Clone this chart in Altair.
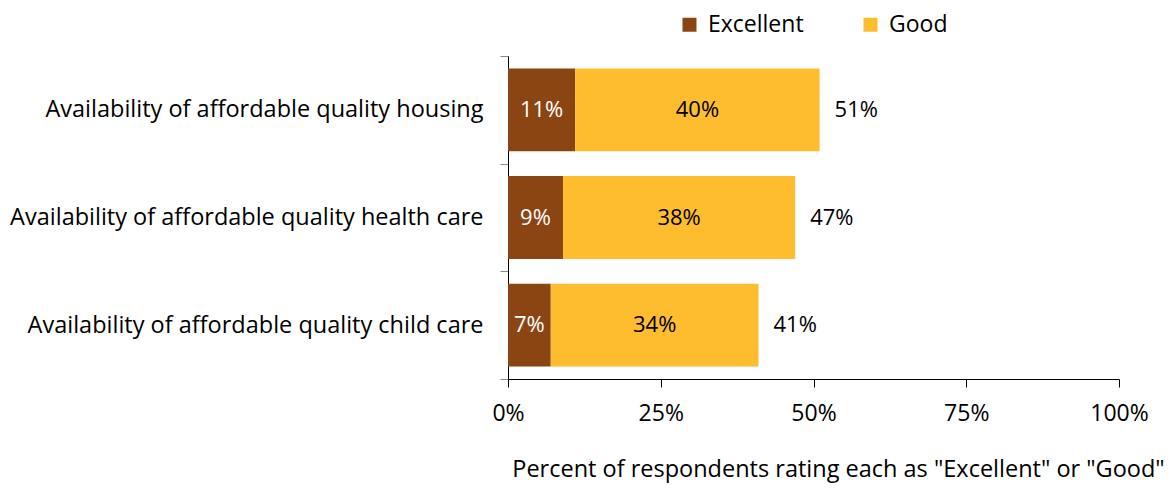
import altair as alt
import pandas as pd

categories = [
    "Availability of affordable quality housing",
    "Availability of affordable quality health care",
    "Availability of affordable quality child care",
]
excellent = [11, 9, 7]
good = [40, 38, 34]
totals = [51, 47, 41]
ratings = ["Excellent", "Good"]
colors = ["#8B4513", "#FDBD2F"]
x_ticks = [0, 25, 50, 75, 100]

rows = []
for c, e, g in zip(categories, excellent, good):
    rows.append({"category": c, "rating": "Excellent", "value": e, "start": 0, "end": e})
    rows.append({"category": c, "rating": "Good", "value": g, "start": e, "end": e + g})
df = pd.DataFrame(rows)
df["mid"] = (df["start"] + df["end"]) / 2
df["label"] = df["value"].astype(str) + "%"

tot = pd.DataFrame({"category": categories, "total": totals})
tot["label"] = tot["total"].astype(str) + "%"

FONT = "Open Sans"
FS = 22

y_enc = alt.Y(
    "category:N",
    sort=categories,
    title=None,
    scale=alt.Scale(paddingInner=0, paddingOuter=0),
    axis=alt.Axis(
        labelFontSize=23.5,
        labelFont=FONT,
        labelColor="black",
        labelPadding=17,
        tickBand="extent",
        tickSize=8,
        tickColor="#888888",
        domainColor="black",
        labelLimit=600,
    ),
)

x_scale = alt.Scale(domain=[0, 100])

bars = alt.Chart(df).mark_bar(height=alt.RelativeBandSize(0.77)).encode(
    y=y_enc,
    x=alt.X(
        "start:Q",
        scale=x_scale,
        title='Percent  of respondents rating each as "Excellent" or "Good"',
        axis=alt.Axis(
            values=x_ticks,
            labelExpr="datum.value + '%'",
            labelFontSize=23,
            labelFont=FONT,
            labelColor="black",
            labelPadding=15,
            labelFlush=False,
            tickSize=8,
            tickColor="black",
            domainColor="black",
            grid=False,
            titleFont=FONT,
            titleFontSize=23.5,
            titleFontWeight="normal",
            titleColor="black",
            titleX=330,
            titleY=78,
            titleBaseline="top",
        ),
    ),
    x2="end:Q",
    color=alt.Color(
        "rating:N",
        scale=alt.Scale(domain=ratings, range=colors),
        title=None,
        legend=alt.Legend(
            orient="none",
            direction="horizontal",
            legendX=170,
            legendY=-43,
            symbolType="square",
            symbolSize=196,
            symbolStrokeWidth=0,
            labelFontSize=23,
            labelFont=FONT,
            labelColor="black",
            labelOffset=7,
            columnPadding=55,
        ),
    ),
)

inner = alt.Chart(df).mark_text(fontSize=FS, font=FONT).encode(
    y=alt.Y("category:N", sort=categories),
    x=alt.X("mid:Q", scale=x_scale),
    text="label:N",
    color=alt.condition(alt.datum.rating == "Excellent", alt.value("white"), alt.value("black")),
)

outer = alt.Chart(tot).mark_text(fontSize=FS, font=FONT, align="left", dx=15, color="black").encode(
    y=alt.Y("category:N", sort=categories),
    x=alt.X("total:Q", scale=x_scale),
    text="label:N",
)

chart = (
    alt.layer(bars, inner, outer)
    .properties(
        width=611,
        height=323,
        autosize=alt.AutoSizeParams(type="none"),
        padding={"left": 500, "top": 48, "right": 46, "bottom": 108},
    )
    .configure_view(stroke=None)
)

chart.save("out.html", embed_options={"renderer": "svg", "actions": False})
